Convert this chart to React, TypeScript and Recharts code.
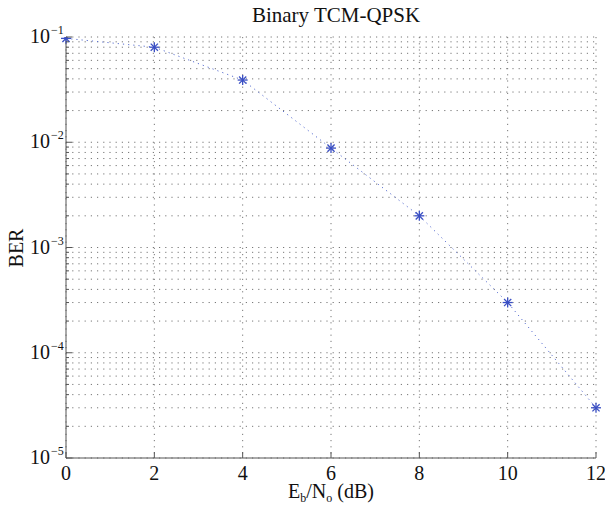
import React from 'react';
import { LineChart, Line, XAxis, YAxis, CartesianGrid } from 'recharts';

// Binary TCM-QPSK BER curve
const snrDb = [0, 2, 4, 6, 8, 10, 12];
const ber = [0.097, 0.08, 0.039, 0.0088, 0.002, 0.0003, 0.00003];
const xTicks = [0, 2, 4, 6, 8, 10, 12];
const decades = [1e-5, 1e-4, 1e-3, 1e-2, 1e-1];
const minorSteps = [2, 3, 4, 5, 6, 7, 8, 9];

const data = snrDb.map((x, i) => ({ x, ber: ber[i] }));
const yTicks: number[] = [];
decades.forEach((d, i) => {
  yTicks.push(d);
  if (i < decades.length - 1) minorSteps.forEach((m) => yTicks.push(d * m));
});

const FONT = '"Liberation Serif", "Times New Roman", serif';
const AXIS = '#555';
const BLUE = '#3a4fc4';

const isDecade = (v: number) => decades.some((d) => Math.abs(d - v) / d < 1e-6);

const LeftTick = (props: any) => {
  const { x, y, payload } = props;
  const ax = x + 4;
  const major = isDecade(payload.value);
  const exp = Math.round(Math.log10(payload.value));
  return (
    <g>
      <line x1={ax} x2={ax + (major ? 6 : 3)} y1={y} y2={y} stroke={AXIS} />
      {major && (
        <text x={x - 12} y={y + 6} textAnchor="end" fontFamily={FONT} fontSize={20} fill="#111">
          10
        </text>
      )}
      {major && (
        <text x={x - 11} y={y - 3} textAnchor="start" fontFamily={FONT} fontSize={12} fill="#111">
          {'\u2212' + Math.abs(exp)}
        </text>
      )}
    </g>
  );
};

const RightTick = (props: any) => {
  const { x, y, payload } = props;
  const ax = x - 4;
  const major = isDecade(payload.value);
  return <line x1={ax} x2={ax - (major ? 6 : 3)} y1={y} y2={y} stroke={AXIS} />;
};

const BottomTick = (props: any) => {
  const { x, y, payload } = props;
  return (
    <g>
      <line x1={x} x2={x} y1={y - 4} y2={y - 10} stroke={AXIS} />
      <text x={x} y={y + 18} textAnchor="middle" fontFamily={FONT} fontSize={20} fill="#111">
        {payload.value}
      </text>
    </g>
  );
};

const TopTick = (props: any) => {
  const { x, y } = props;
  return <line x1={x} x2={x} y1={y + 4} y2={y + 10} stroke={AXIS} />;
};

const Star = (props: any) => {
  const { cx, cy } = props;
  if (cx == null || cy == null) return null;
  const r = 5;
  const d = r * 0.72;
  return (
    <g stroke={BLUE} strokeWidth={1.3}>
      <line x1={cx - r} x2={cx + r} y1={cy} y2={cy} />
      <line x1={cx} x2={cx} y1={cy - r} y2={cy + r} />
      <line x1={cx - d} x2={cx + d} y1={cy - d} y2={cy + d} />
      <line x1={cx - d} x2={cx + d} y1={cy + d} y2={cy - d} />
    </g>
  );
};

export default function App() {
  return (
    <div style={{ position: 'absolute', top: 0, left: 0, width: 605, height: 510, background: '#fff' }}>
      <LineChart
        width={605}
        height={510}
        data={data}
        margin={{ top: 37, right: 9, bottom: 0, left: 0 }}
        style={{ overflow: 'visible' }}
      >
        <CartesianGrid
          xAxisId="b"
          yAxisId="l"
          stroke="#777"
          strokeDasharray="1.2 5"
          strokeWidth={1}
        />
        <XAxis
          xAxisId="b"
          dataKey="x"
          type="number"
          domain={[0, 12]}
          ticks={xTicks}
          height={52}
          tickSize={0}
          tickMargin={4}
          stroke={AXIS}
          tick={<BottomTick />}
        />
        <XAxis
          xAxisId="t"
          dataKey="x"
          type="number"
          orientation="top"
          domain={[0, 12]}
          ticks={xTicks}
          height={0}
          tickSize={0}
          tickMargin={4}
          stroke={AXIS}
          tick={<TopTick />}
        />
        <YAxis
          yAxisId="l"
          scale="log"
          type="number"
          domain={[1e-5, 1e-1]}
          allowDataOverflow
          ticks={yTicks}
          interval={0}
          width={66}
          tickSize={0}
          tickMargin={4}
          stroke={AXIS}
          tick={<LeftTick />}
        />
        <YAxis
          yAxisId="r"
          orientation="right"
          scale="log"
          type="number"
          domain={[1e-5, 1e-1]}
          allowDataOverflow
          ticks={yTicks}
          interval={0}
          width={0}
          tickSize={0}
          tickMargin={4}
          stroke={AXIS}
          tick={<RightTick />}
        />
        <Line
          xAxisId="b"
          yAxisId="l"
          dataKey="ber"
          stroke="#5a6fd0"
          strokeWidth={1}
          strokeDasharray="1.2 4"
          dot={<Star />}
          activeDot={false}
          isAnimationActive={false}
        />
      </LineChart>
      <div style={{ position: 'absolute', top: 3, left: 66, width: 540, textAlign: 'center', fontFamily: FONT, fontSize: 21, color: '#111' }}>
        Binary TCM-QPSK
      </div>
      <div style={{ position: 'absolute', top: 479, left: 66, width: 530, textAlign: 'center', fontFamily: FONT, fontSize: 20, color: '#111', lineHeight: '24px' }}>
        E<sub style={{ fontSize: 12, verticalAlign: '-4px' }}>b</sub>/N<sub style={{ fontSize: 12, verticalAlign: '-4px' }}>o</sub> (dB)
      </div>
      <div style={{ position: 'absolute', top: 236, left: -14, width: 60, textAlign: 'center', transform: 'rotate(-90deg)', fontFamily: FONT, fontSize: 20, color: '#111', lineHeight: '24px' }}>
        BER
      </div>
    </div>
  );
}
